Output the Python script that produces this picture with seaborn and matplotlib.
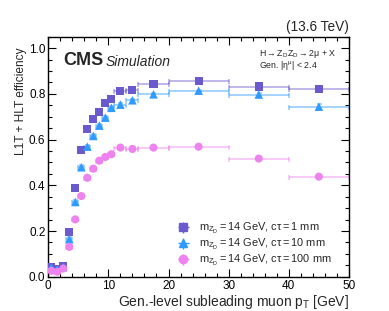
import numpy as np
import pandas as pd
import matplotlib
matplotlib.use("Agg")
import matplotlib.pyplot as plt
import seaborn as sns
from matplotlib.ticker import MultipleLocator

# bin edges of the subleading muon pT (GeV)
bin_edges = [0, 1, 2, 3, 4, 5, 6, 7, 8, 9, 10, 11, 13, 15, 20, 30, 40, 50]

# efficiencies
eff_1mm = [0.044, 0.036, 0.047, 0.194, 0.388, 0.556, 0.647, 0.690, 0.722, 0.760,
           0.777, 0.812, 0.817, 0.842, 0.858, 0.832, 0.823]
eff_10mm = [0.040, 0.033, 0.043, 0.164, 0.327, 0.479, 0.569, 0.616, 0.661, 0.696,
            0.739, 0.753, 0.772, 0.798, 0.814, 0.797, 0.744]
eff_100mm = [0.026, 0.022, 0.036, 0.131, 0.251, 0.353, 0.433, 0.473, 0.508, 0.524,
             0.536, 0.565, 0.559, 0.565, 0.569, 0.517, 0.438]
err_1mm = [0.006, 0.006, 0.006, 0.008, 0.008, 0.008, 0.007, 0.007, 0.007, 0.006,
           0.006, 0.005, 0.005, 0.004, 0.004, 0.006, 0.008]
err_10mm = [0.006, 0.006, 0.006, 0.008, 0.008, 0.008, 0.007, 0.007, 0.007, 0.006,
            0.006, 0.005, 0.005, 0.004, 0.004, 0.006, 0.010]
err_100mm = [0.005, 0.005, 0.005, 0.007, 0.007, 0.007, 0.007, 0.007, 0.006, 0.006,
             0.006, 0.005, 0.005, 0.004, 0.004, 0.006, 0.008]

labels = [r"$m_{Z_D} = 14$ GeV, c$\tau = 1$ mm",
          r"$m_{Z_D} = 14$ GeV, c$\tau = 10$ mm",
          r"$m_{Z_D} = 14$ GeV, c$\tau = 100$ mm"]
colors = ["#6a5acd", "#2e9bff", "#ee82ee"]
markers = ["s", "^", "o"]

sns.set_theme(style="ticks")
plt.rcParams["font.family"] = ["Liberation Sans", "DejaVu Sans"]
plt.rcParams["mathtext.fontset"] = "custom"
plt.rcParams["mathtext.rm"] = "Liberation Sans"
plt.rcParams["mathtext.it"] = "Liberation Sans"
plt.rcParams["mathtext.bf"] = "Liberation Sans:bold"

edges = np.array(bin_edges, dtype=float)
centers = 0.5 * (edges[1:] + edges[:-1])
halfw = 0.5 * (edges[1:] - edges[:-1])

fig = plt.figure(figsize=(3.89, 3.11), dpi=100)
ax = fig.add_axes([0.124, 0.110, 0.773, 0.772])

series = [eff_1mm, eff_10mm, eff_100mm]
errors = [err_1mm, err_10mm, err_100mm]
for vals, errs, lab, col, mk in zip(series, errors, labels, colors, markers):
    df = pd.DataFrame({"pt": centers, "eff": vals})
    ax.errorbar(centers, vals, xerr=halfw, yerr=errs, fmt="none",
                ecolor=col, alpha=0.55, elinewidth=1.1, capsize=1.8, capthick=1.1)
    sns.scatterplot(data=df, x="pt", y="eff", ax=ax, marker=mk, color=col,
                    s=34 if mk != "^" else 38, edgecolor="none", legend=False, zorder=3)
    ax.errorbar([], [], xerr=[], yerr=[], fmt=mk, color=col, ms=6,
                ecolor=col, elinewidth=1.0, capsize=1.8, label=lab)

ax.set_xlim(0, 50)
ax.set_ylim(0, 1.05)
ax.xaxis.set_major_locator(MultipleLocator(10))
ax.xaxis.set_minor_locator(MultipleLocator(2))
ax.yaxis.set_major_locator(MultipleLocator(0.2))
ax.yaxis.set_minor_locator(MultipleLocator(0.05))
ax.tick_params(which="both", direction="in", top=True, right=True, labelsize=8.5,
               colors="black", pad=2)
ax.tick_params(which="major", length=6, width=0.8)
ax.tick_params(which="minor", length=3, width=0.8)
for sp in ax.spines.values():
    sp.set_linewidth(1.0)
    sp.set_color("black")

ax.set_xlabel(r"Gen.-level subleading muon $p_\mathrm{T}$ [GeV]", fontsize=10,
              loc="right", labelpad=1)
ax.set_ylabel("L1T + HLT efficiency", fontsize=8.6, loc="top")
ax.yaxis.set_label_coords(-0.072, 0.955, transform=ax.transAxes)
ax.yaxis.label.set_horizontalalignment("right")

ax.text(0.05, 0.935, "CMS", transform=ax.transAxes, fontsize=13,
        fontweight="bold", va="top")
ax.text(0.19, 0.925, "Simulation", transform=ax.transAxes, fontsize=10,
        style="italic", va="top")
ax.text(1.0, 1.01, "(13.6 TeV)", transform=ax.transAxes, fontsize=9.8,
        ha="right", va="bottom")
ax.text(0.70, 0.926, r"H$\rightarrow$Z$_D$Z$_D$$\rightarrow$2$\mu$ + X",
        transform=ax.transAxes, fontsize=6.3, va="center")
ax.text(0.70, 0.880, r"Gen. |$\eta^{\mu}$| < 2.4", transform=ax.transAxes,
        fontsize=6.3, va="center")

ax.legend(loc="lower right", bbox_to_anchor=(0.975, -0.005), frameon=False,
          fontsize=7.9, handlelength=1.2, handletextpad=0.8, labelspacing=0.08)

fig.savefig("out.png", dpi=100)
